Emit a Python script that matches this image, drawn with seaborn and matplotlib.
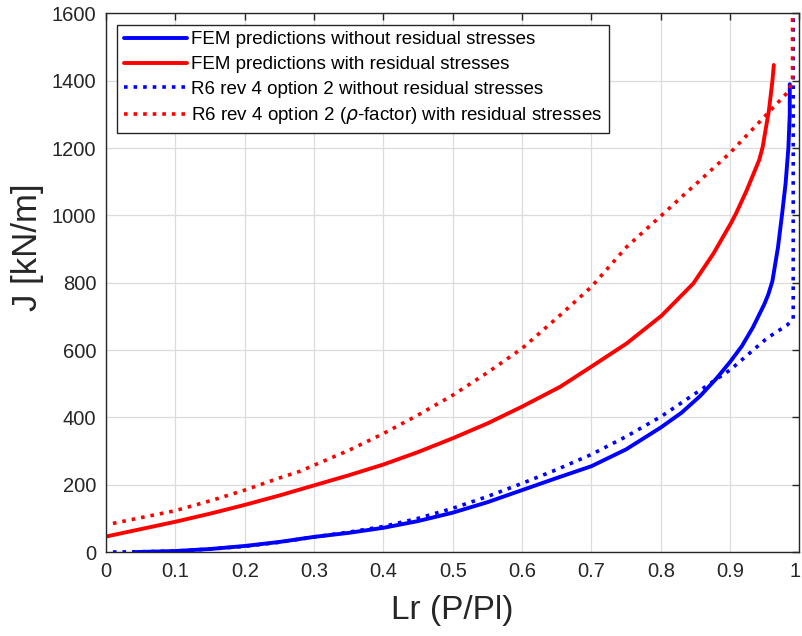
import numpy as np
import pandas as pd
import matplotlib
matplotlib.use('Agg')
import matplotlib.pyplot as plt
import matplotlib.transforms as mtransforms
import seaborn as sns

# values
fem_no_rs_x = [0.044, 0.1, 0.15, 0.2, 0.25, 0.3, 0.35, 0.4, 0.45, 0.5, 0.55, 0.6, 0.65, 0.7, 0.75,
               0.8, 0.83, 0.857, 0.88, 0.9, 0.917, 0.933, 0.949, 0.955, 0.961, 0.969, 0.975, 0.98, 0.984, 0.986, 0.986]
fem_no_rs_j = [0, 3, 9, 18, 30, 45, 57, 72, 92, 117, 148, 184, 220, 255, 305,
               370, 414, 464, 515, 565, 612, 668, 735, 765, 805, 905, 1005, 1095, 1200, 1300, 1390]

fem_rs_x = [0.0, 0.05, 0.1, 0.15, 0.2, 0.25, 0.28, 0.3, 0.35, 0.4, 0.45, 0.5, 0.55, 0.6, 0.655, 0.7,
            0.751, 0.801, 0.847, 0.876, 0.902, 0.909, 0.924, 0.933, 0.942, 0.947, 0.956, 0.961, 0.963]
fem_rs_j = [46, 68, 90, 114, 140, 168, 186, 198, 228, 260, 297, 338, 382, 432, 491, 551,
            620, 702, 798, 887, 980, 1008, 1075, 1120, 1165, 1204, 1313, 1400, 1447]

r6_no_rs_x = [0.01, 0.05, 0.1, 0.15, 0.2, 0.25, 0.3, 0.35, 0.4, 0.45, 0.5, 0.55, 0.6, 0.65, 0.7, 0.75,
              0.8, 0.857, 0.9, 0.953, 0.982, 0.991, 0.991]
r6_no_rs_j = [0, 1, 3, 9, 17, 29, 45, 59, 76, 100, 130, 165, 204, 245, 290, 343,
              402, 481, 541, 635, 674, 692, 1600]

r6_rs_x = [0.01, 0.05, 0.1, 0.15, 0.2, 0.25, 0.28, 0.3, 0.35, 0.4, 0.45, 0.5, 0.55, 0.6, 0.655, 0.7,
           0.751, 0.801, 0.83, 0.857, 0.9, 0.948, 0.984, 0.99, 0.99]
r6_rs_j = [85, 102, 123, 152, 184, 220, 240, 258, 302, 352, 407, 466, 533, 605, 704, 788,
           907, 1000, 1055, 1105, 1186, 1290, 1368, 1400, 1600]

labels = ['FEM predictions without residual stresses',
          'FEM predictions with residual stresses',
          'R6 rev 4 option 2 without residual stresses',
          'R6 rev 4 option 2 ($\\rho$-factor) with residual stresses']

sns.set_style('white')
plt.rcParams['font.family'] = ['Liberation Sans', 'DejaVu Sans']
plt.rcParams['mathtext.fontset'] = 'dejavusans'

dark = '#262626'
fig = plt.figure(figsize=(8.03, 6.36), dpi=100)
ax = fig.add_axes([0.132, 0.132, 0.8636, 0.8468])

sns.lineplot(x=fem_no_rs_x, y=fem_no_rs_j, ax=ax, color='#0000ff', lw=2.8, sort=False, estimator=None, label=labels[0])
sns.lineplot(x=fem_rs_x, y=fem_rs_j, ax=ax, color='#ff0000', lw=2.8, sort=False, estimator=None, label=labels[1])
sns.lineplot(x=r6_no_rs_x, y=r6_no_rs_j, ax=ax, color='#0000ff', lw=2.6, ls=':', sort=False, estimator=None, label=labels[2])
sns.lineplot(x=r6_rs_x, y=r6_rs_j, ax=ax, color='#ff0000', lw=2.6, ls=':', sort=False, estimator=None, label=labels[3])

ax.set_xlim(0, 1)
ax.set_ylim(0, 1600)
ax.set_xticks(np.arange(0, 1.01, 0.1))
ax.set_xticklabels(['0', '0.1', '0.2', '0.3', '0.4', '0.5', '0.6', '0.7', '0.8', '0.9', '1'])
ax.set_yticks(np.arange(0, 1601, 200))
ax.grid(True, color='#dcdcdc', lw=0.9)
ax.tick_params(direction='in', length=5, width=1, colors=dark, labelsize=14.5,
               top=True, right=True, pad=7)
for s in ax.spines.values():
    s.set_color(dark)
    s.set_linewidth(1)
ax.set_xlabel('Lr (P/Pl)', fontsize=24, color=dark, labelpad=10)
ax.set_ylabel('J [kN/m]', fontsize=25, color=dark)
ax.yaxis.set_label_coords(-0.09, 0.566)

# last x tick label sits on the figure edge, nudge it inside a little
last = ax.get_xticklabels()[-1]
last.set_transform(last.get_transform() + mtransforms.ScaledTranslation(-4 / 100, 0, fig.dpi_scale_trans))

leg = ax.legend(loc='upper left', bbox_to_anchor=(0.016, 0.979), borderaxespad=0,
                fontsize=13.5, frameon=True, fancybox=False, framealpha=1, edgecolor=dark,
                handlelength=3.4, handletextpad=0.2, labelspacing=0.4, borderpad=0.35)
leg.get_frame().set_linewidth(1)
for t in leg.get_texts():
    t.set_color('black')

fig.savefig('out.png', dpi=100)
